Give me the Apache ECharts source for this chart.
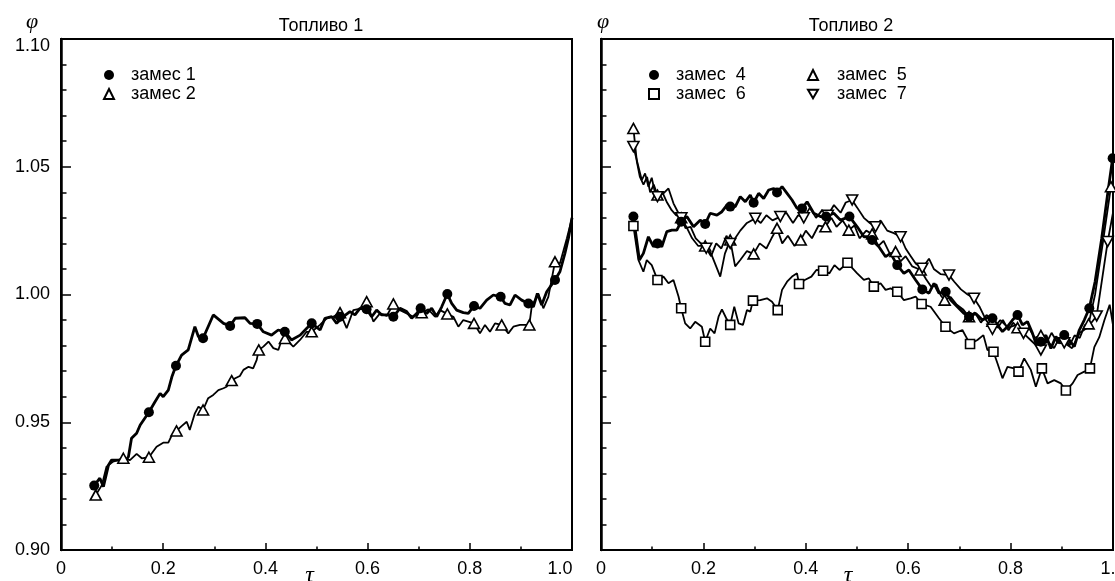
<!DOCTYPE html>
<html><head><meta charset="utf-8">
<script src="https://cdn.jsdelivr.net/npm/echarts@6/dist/echarts.min.js"></script>
<style>html,body{margin:0;padding:0;background:#fff}#c{width:1115px;height:581px}</style>
</head><body><div id="c"></div>
<script>
// ---------- data (tau, phi) ----------
const panelTitles = ['Топливо 1', 'Топливо 2'];
const xTickLabels = ['0', '0.2', '0.4', '0.6', '0.8', '1.0'];

// Fuel 1
const mix1Line = [[.065,.9252],[.076,.9281],[.083,.9248],[.093,.9333],[.099,.9352],[.119,.9352],[.125,.9346],[.132,.9365],[.138,.9437],[.148,.9457],[.155,.9489],[.172,.9539],[.184,.958],[.194,.9613],[.2,.96],[.21,.9626],[.217,.9678],[.225,.9721],[.236,.9763],[.249,.9783],[.262,.9874],[.269,.9835],[.278,.9829],[.298,.992],[.318,.9887],[.331,.9877],[.341,.9907],[.36,.9909],[.37,.9887],[.384,.9885],[.396,.9854],[.412,.9841],[.425,.9861],[.438,.9854],[.451,.9822],[.468,.9841],[.481,.9868],[.4906,.9887],[.507,.9861],[.5166,.9907],[.5297,.9913],[.5394,.9887],[.5525,.9913],[.5655,.9933],[.5753,.992],[.585,.9946],[.598,.9942],[.608,.9913],[.6177,.9939],[.6275,.992],[.6405,.992],[.6504,.9913],[.6634,.9946],[.6764,.9933],[.6862,.9907],[.696,.9926],[.7038,.9946],[.7156,.9926],[.7254,.9946],[.7352,.9913],[.745,.9952],[.756,1.0002],[.7645,.9965],[.7743,.9939],[.7873,.9929],[.7971,.9926],[.8082,.9955],[.8199,.9946],[.833,.9978],[.846,.9998],[.8604,.9991],[.8689,.9965],[.8787,.9959],[.8885,.9998],[.9015,.9978],[.9147,.9965],[.9244,.9952],[.9322,1.0004],[.9407,.9959],[.9505,1.0011],[.9667,1.0057],[.9765,1.009],[.986,1.016],[.993,1.022],[1.0,1.03]];
const mix1Marks = [[.065,.9252],[.172,.9539],[.225,.9721],[.278,.9829],[.331,.9877],[.384,.9885],[.438,.9854],[.4906,.9887],[.546,.9913],[.598,.9942],[.6504,.9913],[.7038,.9946],[.756,1.0002],[.8082,.9955],[.8604,.9991],[.9147,.9965],[.9667,1.0057]];
const mix2Line = [[.068,.9215],[.080,.9254],[.089,.9326],[.102,.9346],[.122,.9359],[.135,.9352],[.148,.9376],[.158,.9359],[.172,.9363],[.187,.9404],[.2,.942],[.21,.942],[.217,.945],[.226,.9466],[.236,.9485],[.246,.9502],[.252,.947],[.262,.9535],[.269,.9561],[.278,.9548],[.288,.9594],[.298,.9607],[.308,.9626],[.318,.9633],[.324,.9639],[.334,.9663],[.341,.9672],[.35,.9681],[.357,.9705],[.367,.9717],[.376,.9711],[.383,.9744],[.387,.9783],[.396,.9796],[.406,.9816],[.4155,.979],[.4253,.9783],[.4318,.9822],[.4383,.9828],[.4547,.9796],[.4677,.9822],[.4808,.9854],[.4906,.9854],[.5068,.9881],[.52,.9907],[.533,.9913],[.546,.9929],[.559,.9868],[.5721,.9939],[.5884,.9946],[.5981,.9972],[.6112,.9894],[.6243,.9926],[.6373,.9916],[.6504,.9963],[.6634,.9939],[.6764,.9926],[.6895,.9913],[.7058,.9929],[.7189,.9942],[.7319,.9913],[.7417,.9939],[.756,.9924],[.7678,.9913],[.7776,.9874],[.7873,.99],[.7971,.9894],[.8082,.9887],[.8199,.9848],[.8297,.9881],[.8395,.9854],[.8493,.9887],[.8624,.9881],[.8754,.9848],[.8852,.9874],[.8982,.9881],[.9165,.9881],[.9211,.9952],[.9341,1.0004],[.9439,.9946],[.9537,.9991],[.9667,1.0128],[.9765,1.0122],[.99,1.022],[1.0,1.03]];
const mix2Marks = [[.068,.9215],[.122,.9359],[.172,.9363],[.226,.9466],[.278,.9548],[.334,.9663],[.387,.9783],[.4383,.9828],[.4906,.9854],[.546,.9929],[.5981,.9972],[.6504,.9963],[.7058,.9929],[.756,.9924],[.8082,.9887],[.8624,.9881],[.9165,.9881],[.9667,1.0128]];

// Fuel 2
const mix4Line = [[.0633,1.0305],[.0750,1.0135],[.0828,1.0161],[.0926,1.0226],[.1024,1.0187],[.1103,1.0200],[.1187,1.0187],[.1285,1.0246],[.1383,1.0252],[.1481,1.0252],[.1566,1.0285],[.1677,1.0305],[.1807,1.0265],[.1937,1.0291],[.2035,1.0276],[.2133,1.0318],[.2264,1.0311],[.2361,1.0324],[.2459,1.0350],[.2524,1.0344],[.2622,1.0344],[.2720,1.0383],[.2818,1.0363],[.2916,1.0389],[.2981,1.0359],[.3079,1.0396],[.3177,1.0376],[.3275,1.0409],[.3372,1.0415],[.3438,1.0399],[.3536,1.0422],[.3634,1.0396],[.3731,1.0370],[.3829,1.0337],[.3927,1.0337],[.4025,1.0363],[.4155,1.0318],[.4286,1.0305],[.4397,1.0305],[.4547,1.0318],[.4677,1.0291],[.4853,1.0305],[.5004,1.0265],[.5134,1.0226],[.5231,1.0226],[.5296,1.0213],[.5427,1.0187],[.5558,1.0148],[.5656,1.0161],[.5786,1.0115],[.5916,1.0083],[.6014,1.0096],[.6145,1.0057],[.6275,1.0020],[.6406,1.0005],[.6504,1.0044],[.6601,1.0005],[.6732,1.0011],[.6830,.9978],[.6960,.9952],[.7090,.9926],[.7188,.9913],[.7319,.9926],[.7449,.9900],[.7580,.9913],[.7645,.9907],[.7743,.9881],[.7841,.9855],[.7939,.9874],[.8037,.9900],[.8135,.9920],[.8232,.9881],[.8330,.9894],[.8428,.9848],[.8493,.9809],[.8591,.9815],[.8689,.9841],[.8787,.9789],[.8885,.9835],[.8982,.9809],[.9048,.9841],[.9146,.9822],[.9244,.9796],[.9342,.9861],[.9439,.9900],[.9537,.9946],[.965,1.005],[.978,1.022],[.990,1.040],[.9993,1.0533]];
const mix4Marks = [[.0633,1.0305],[.1103,1.02],[.1566,1.0285],[.2035,1.0276],[.2524,1.0344],[.2981,1.0359],[.3438,1.0399],[.3927,1.0337],[.4397,1.0305],[.4853,1.0305],[.5296,1.0213],[.5786,1.0115],[.6275,1.002],[.6732,1.0011],[.7188,.9913],[.7645,.9907],[.8135,.992],[.8591,.9815],[.9048,.9841],[.9537,.9946],[.9993,1.0533]];

const mix5Line = [[.0633,1.065],[.0700,1.052],[.0760,1.046],[.0830,1.043],[.0900,1.046],[.0960,1.040],[.1030,1.043],[.1103,1.0389],[.1200,1.040],[.1290,1.036],[.1380,1.033],[.1470,1.031],[.1566,1.030],[.1680,1.026],[.1780,1.022],[.1900,1.019],[.2035,1.019],[.2150,1.016],[.2230,1.012],[.2329,1.007],[.2420,1.016],[.2524,1.0213],[.2620,1.011],[.2720,1.0135],[.2850,1.017],[.2981,1.0159],[.3100,1.020],[.3230,1.018],[.3330,1.022],[.3438,1.0259],[.3540,1.020],[.3650,1.023],[.3780,1.019],[.3901,1.0213],[.4000,1.025],[.4120,1.022],[.4250,1.027],[.4384,1.0265],[.4500,1.030],[.4600,1.0265],[.4720,1.029],[.4840,1.0252],[.4950,1.027],[.5050,1.022],[.5180,1.025],[.5296,1.0237],[.5420,1.019],[.5520,1.021],[.5640,1.016],[.5753,1.0168],[.5850,1.013],[.5950,1.015],[.6080,1.011],[.6243,1.0096],[.6350,1.006],[.6450,1.003],[.6550,1.004],[.6640,.9995],[.6712,.9978],[.6830,.9990],[.6950,.9960],[.7080,.9940],[.7188,.9913],[.7300,.9930],[.7420,.9890],[.7530,.9920],[.7645,.9895],[.7750,.9870],[.7850,.9900],[.7960,.9860],[.8050,.9890],[.8135,.9870],[.8250,.9840],[.8360,.9870],[.8470,.9830],[.8591,.9840],[.8700,.9810],[.8800,.9850],[.8920,.9810],[.9048,.9830],[.9150,.9800],[.9250,.9840],[.9350,.9830],[.9450,.9880],[.9524,.9885],[.9650,1.000],[.9800,1.020],[.996,1.0422]];
const mix5Marks = [[.0633,1.065],[.1103,1.0389],[.1566,1.030],[.2035,1.019],[.2524,1.0213],[.2981,1.0159],[.3438,1.0259],[.3901,1.0213],[.4384,1.0265],[.4840,1.0252],[.5296,1.0237],[.5753,1.0168],[.6243,1.0096],[.6712,.9978],[.7188,.9913],[.7645,.9895],[.8135,.9870],[.8591,.9840],[.9048,.9830],[.9524,.9885],[.996,1.0422]];

const mix6Line = [[.0633,1.0268],[.0731,1.0135],[.0828,1.0089],[.0894,1.0135],[.0991,1.0115],[.1103,1.0057],[.1220,1.0070],[.1318,1.0044],[.1415,1.0057],[.1514,.9992],[.1566,.9946],[.1644,.9887],[.1742,.9867],[.1840,.9893],[.1970,.9874],[.2035,.9815],[.2133,.9867],[.2218,.9848],[.2296,.9913],[.2362,.9942],[.2446,.9907],[.2524,.9881],[.2603,.9952],[.2688,.9887],[.2772,.9881],[.2851,.9939],[.2916,.9933],[.2968,.9976],[.3111,.9978],[.3242,.9985],[.3340,.9972],[.3451,.9939],[.3536,1.0018],[.3634,1.0050],[.3731,1.0070],[.3829,1.0083],[.3868,1.0041],[.3979,1.0057],[.4109,1.0070],[.4207,1.0096],[.4338,1.0093],[.4462,1.0083],[.4560,1.0115],[.4658,1.0096],[.4814,1.0124],[.5004,1.0083],[.5134,1.0057],[.5231,1.0063],[.5329,1.0031],[.5460,1.0044],[.5558,1.0018],[.5656,1.0024],[.5786,1.0011],[.5916,.9978],[.6047,.9985],[.6145,.9992],[.6262,.9963],[.6438,.9952],[.6601,.9907],[.6728,.9874],[.6895,.9848],[.7058,.9861],[.7208,.9806],[.7352,.9822],[.7469,.9841],[.7547,.9783],[.7665,.9776],[.7743,.9731],[.7841,.9672],[.7939,.9717],[.8069,.9711],[.8154,.9698],[.8265,.9750],[.8395,.9705],[.8493,.9639],[.8611,.9711],[.8722,.9652],[.8852,.9665],[.8982,.9652],[.9080,.9624],[.9211,.9652],[.9309,.9685],[.9439,.9698],[.9550,.9711],[.9635,.9794],[.9732,.9833],[.9830,.9898],[.9935,.9960],[1.0,.9880]];
const mix6Marks = [[.0633,1.0268],[.1103,1.0057],[.1566,.9946],[.2035,.9815],[.2524,.9881],[.2968,.9976],[.3451,.9939],[.3868,1.0041],[.4338,1.0093],[.4814,1.0124],[.5329,1.0031],[.5786,1.0011],[.6262,.9963],[.6728,.9874],[.7208,.9806],[.7665,.9776],[.8154,.9698],[.8611,.9711],[.9080,.9624],[.9550,.9711]];

const mix7Line = [[.0633,1.0579],[.0731,1.050],[.0796,1.0448],[.0861,1.0474],[.0926,1.0422],[.0991,1.0457],[.1057,1.0396],[.1103,1.0383],[.1220,1.0396],[.1318,1.0415],[.1415,1.0357],[.1514,1.0318],[.157,1.030],[.1650,1.026],[.1750,1.0265],[.1850,1.022],[.1950,1.020],[.2055,1.0181],[.2150,1.015],[.2250,1.020],[.2350,1.018],[.2450,1.023],[.2524,1.020],[.2620,1.022],[.2720,1.025],[.2850,1.028],[.3014,1.0298],[.3120,1.028],[.3230,1.031],[.3350,1.029],[.3503,1.0305],[.3620,1.032],[.3750,1.028],[.3850,1.031],[.3960,1.030],[.4080,1.034],[.4200,1.030],[.4320,1.033],[.4430,1.031],[.4550,1.035],[.4680,1.032],[.4780,1.036],[.4905,1.037],[.5004,1.034],[.5134,1.030],[.5250,1.028],[.5362,1.0265],[.5460,1.029],[.5590,1.025],[.5720,1.024],[.5851,1.0226],[.5950,1.018],[.6050,1.015],[.6150,1.012],[.6275,1.0103],[.6406,1.014],[.6500,1.010],[.6630,1.008],[.6797,1.0076],[.6900,1.005],[.7030,1.002],[.7160,1.000],[.7286,.9985],[.7400,.9950],[.7520,.9900],[.7645,.9864],[.7800,.9900],[.7950,.9870],[.8100,.9880],[.8252,.9848],[.8400,.9820],[.8591,.9783],[.8700,.9820],[.8850,.9790],[.8950,.9830],[.9048,.9811],[.9200,.9790],[.9350,.9850],[.9500,.9870],[.9681,.9916],[.9896,1.0207],[1.0,1.032]];
const mix7Marks = [[.0633,1.0579],[.1103,1.0383],[.157,1.030],[.2055,1.0181],[.2524,1.020],[.3014,1.0298],[.3503,1.0305],[.3960,1.030],[.4430,1.031],[.4905,1.037],[.5362,1.0265],[.5851,1.0226],[.6275,1.0103],[.6797,1.0076],[.7286,.9985],[.7645,.9864],[.8252,.9848],[.8591,.9783],[.9048,.9811],[.9681,.9916],[.9896,1.0207]];

// ---------- chart ----------
const FONT = 'Liberation Sans';
const BLACK = '#000';
const DOWN_TRI = 'path://M0,0L12,0L6,10.4Z';
const chart = echarts.init(document.getElementById('c'), null, {renderer: 'canvas'});

function xAxisCfg(gi) {
  return {
    type: 'value', gridIndex: gi, min: 0, max: 1, interval: 0.2,
    axisLine: {show: true, onZero: false, lineStyle: {color: BLACK, width: 2}},
    axisTick: {show: true, inside: true, length: 7, lineStyle: {color: BLACK, width: 1.5}},
    minorTick: {show: true, splitNumber: 2, length: 3.5, lineStyle: {color: BLACK, width: 1.5}},
    splitLine: {show: false},
    axisLabel: {color: BLACK, fontFamily: FONT, fontSize: 18, margin: 10,
      formatter: v => {
        const s = xTickLabels[Math.round(v / 0.2)];
        return (gi === 0 && v > 0.99) ? '{r|' + s + '}' : s;
      },
      rich: {r: {fontFamily: FONT, fontSize: 18, color: BLACK, padding: [0, 24, 0, 0]}}},
    name: 'τ', nameLocation: 'middle', nameGap: 14, nameMoveOverlap: false,
    nameTextStyle: {fontFamily: 'Liberation Serif', fontStyle: 'italic', fontSize: 24, color: BLACK,
      verticalAlign: 'top', padding: [0, gi === 0 ? 14 : 18, 0, 0]}
  };
}
function yAxisCfg(gi, labels) {
  return {
    type: 'value', gridIndex: gi, min: 0.9, max: 1.1, interval: 0.05,
    axisLine: {show: true, lineStyle: {color: BLACK, width: 2.5}},
    axisTick: {show: true, inside: true, length: 10, lineStyle: {color: BLACK, width: 1.5}},
    minorTick: {show: true, splitNumber: 5, length: 5.5, lineStyle: {color: BLACK, width: 1.5}},
    splitLine: {show: false},
    axisLabel: {show: labels, color: BLACK, fontFamily: FONT, fontSize: 18, margin: 11,
      formatter: v => (Math.abs(v - 1.1) < 1e-6 ? '{t|' + v.toFixed(2) + '}' : v.toFixed(2)),
      rich: {t: {fontFamily: FONT, fontSize: 18, color: BLACK, padding: [15, 0, 0, 0]}}}
  };
}
function lineS(name, data, gi, w) {
  return {name: name, type: 'line', xAxisIndex: gi, yAxisIndex: gi, data: data,
    showSymbol: false, symbol: 'none', lineStyle: {color: BLACK, width: w}, clip: true, z: w > 2 ? 3 : 2,
    emphasis: {disabled: true}};
}
function markS(name, data, gi, symbol, filled, size, rot) {
  return {name: name, type: 'scatter', xAxisIndex: gi, yAxisIndex: gi, data: data,
    symbol: symbol, symbolSize: size, symbolRotate: rot || 0,
    itemStyle: filled ? {color: BLACK, borderColor: BLACK, borderWidth: 0, opacity: 1}
                      : {color: '#fff', borderColor: BLACK, borderWidth: 1.6, opacity: 1},
    z: 5, emphasis: {disabled: true}};
}

const legendText = {color: BLACK, fontFamily: FONT, fontSize: 18};
const gridBase = {show: true, borderColor: BLACK, borderWidth: 2, containLabel: false, outerBoundsMode: 'none'};
const option = {
  animation: false,
  backgroundColor: '#fff',
  title: [
    {text: panelTitles[0], left: 316, top: 12, textAlign: 'center',
     textStyle: {fontFamily: FONT, fontSize: 18, fontWeight: 'normal', color: BLACK}},
    {text: panelTitles[1], left: 846, top: 12, textAlign: 'center',
     textStyle: {fontFamily: FONT, fontSize: 18, fontWeight: 'normal', color: BLACK}}
  ],
  graphic: [
    {type: 'text', left: 26, top: 11, style: {text: 'φ', font: 'italic 22px "Liberation Serif"', fill: BLACK}},
    {type: 'text', left: 597, top: 11, style: {text: 'φ', font: 'italic 22px "Liberation Serif"', fill: BLACK}}
  ],
  grid: [
    Object.assign({left: 61, top: 39, width: 511, height: 511}, gridBase),
    Object.assign({left: 601, top: 39, width: 512, height: 511}, gridBase)
  ],
  xAxis: [xAxisCfg(0), xAxisCfg(1)],
  yAxis: [yAxisCfg(0, true), yAxisCfg(1, false)],
  legend: [
    {data: ['замес 1', 'замес 2'], orient: 'vertical', left: 98, top: 61, itemGap: 1,
     itemWidth: 10, itemHeight: 10, selectedMode: false, textStyle: Object.assign({padding: [0, 0, 0, 12]}, legendText)},
    {data: ['замес  4', 'замес  6'], orient: 'vertical', left: 643, top: 61, itemGap: 1,
     itemWidth: 10, itemHeight: 10, selectedMode: false, textStyle: Object.assign({padding: [0, 0, 0, 12]}, legendText)},
    {data: ['замес  5', {name: 'замес  7', icon: DOWN_TRI}], orient: 'vertical', left: 802, top: 61, itemGap: 1,
     itemWidth: 10, itemHeight: 10, selectedMode: false, textStyle: Object.assign({padding: [0, 0, 0, 14]}, legendText)}
  ],
  series: [
    lineS('l2', mix2Line, 0, 1.8),
    lineS('l1', mix1Line, 0, 2.8),
    markS('замес 2', mix2Marks, 0, 'triangle', false, [11, 10]),
    markS('замес 1', mix1Marks, 0, 'circle', true, 10),
    lineS('l5', mix5Line, 1, 1.8),
    lineS('l6', mix6Line, 1, 1.8),
    lineS('l7', mix7Line, 1, 1.8),
    lineS('l4', mix4Line, 1, 2.8),
    markS('замес  5', mix5Marks, 1, 'triangle', false, [11, 10]),
    markS('замес  6', mix6Marks, 1, 'rect', false, 9),
    markS('замес  7', mix7Marks, 1, 'triangle', false, [11, 10], 180),
    markS('замес  4', mix4Marks, 1, 'circle', true, 10)
  ]
};
chart.setOption(option);
</script></body></html>
